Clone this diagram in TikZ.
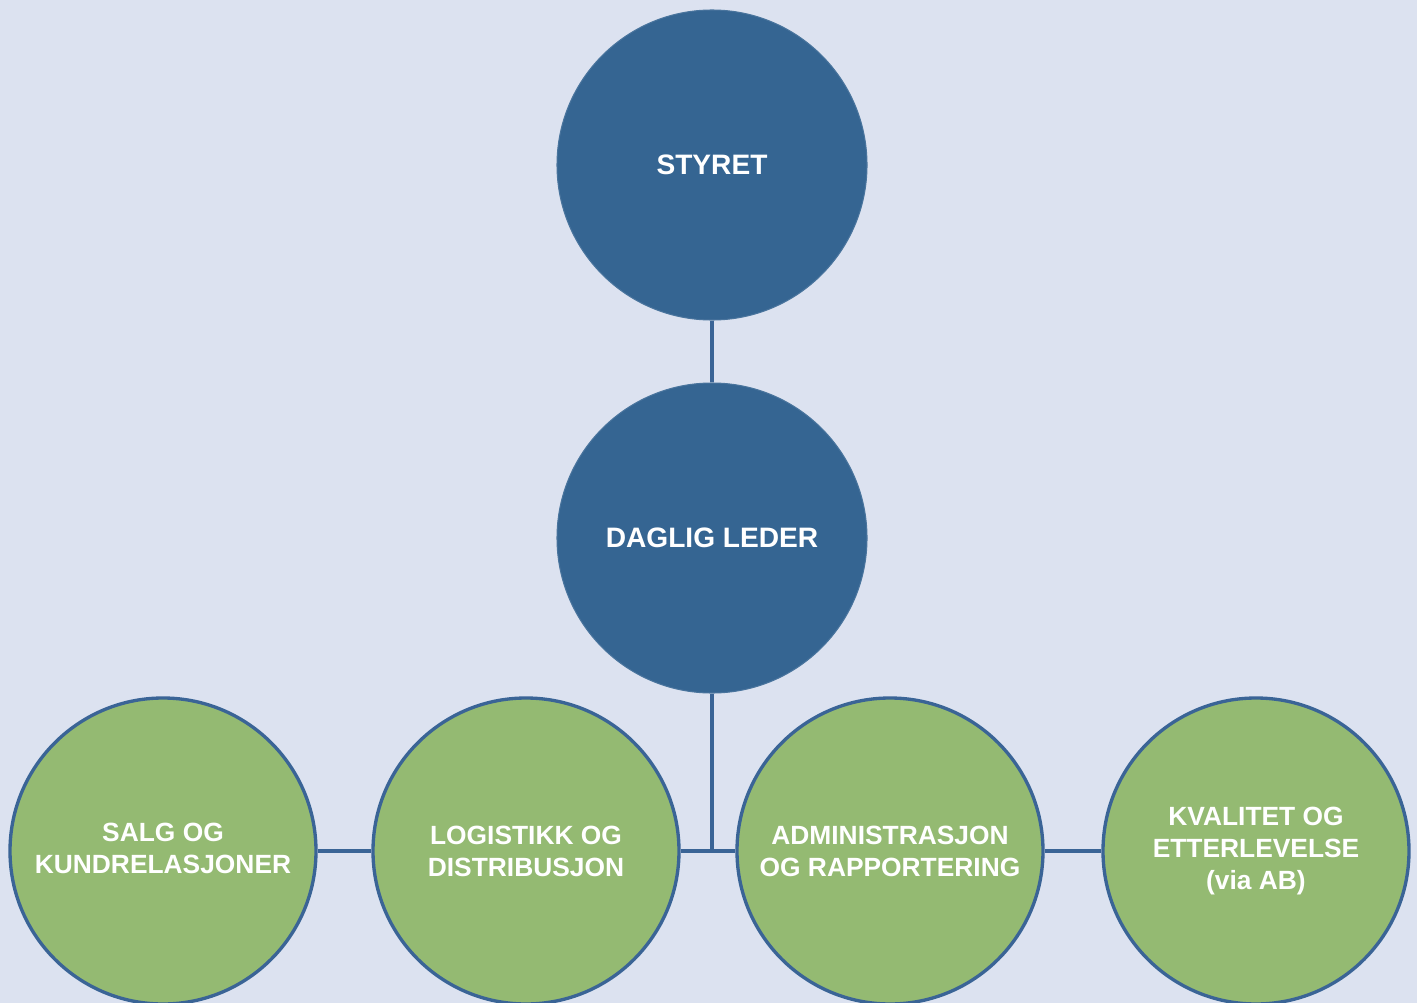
\documentclass[tikz,border=0pt]{standalone}
\usepackage{fontspec}
\setmainfont{Liberation Sans}
\usetikzlibrary{positioning,calc}
\definecolor{bgblue}{HTML}{DCE2F0}
\definecolor{darkblue}{HTML}{356592}
\definecolor{edgeblue}{HTML}{3A6496}
\definecolor{leafgreen}{HTML}{94BA72}
\begin{document}
\begin{tikzpicture}[line width=1.9pt,
top/.style = {circle, fill = darkblue, draw = darkblue!90!white, line width=0.6pt, minimum size=6.2cm, inner sep=0pt, align=center, text=white, font=\fontsize{16}{19}\selectfont\bfseries},
unit/.style = {circle, fill = leafgreen, draw = edgeblue, minimum size=6.12cm, inner sep=0pt, align=center, text=white, font=\fontsize{15}{18.2}\selectfont\bfseries},]
\fill[bgblue] (0,0) rectangle (28.34,-20.06);
\useasboundingbox (0,0) rectangle (28.34,-20.06);
\node (S) at (14.24,-3.3)[top] {STYRET};
\node (D) at (14.24,-10.76)[top] {DAGLIG LEDER};
\node (SK) at (3.26,-17.02)[unit] {\raisebox{0.1cm}{\begin{tabular}{@{}c@{}}SALG OG\\ KUNDRELASJONER\end{tabular}}};
\node (LD) at (10.52,-17.02)[unit] {LOGISTIKK OG\\ DISTRIBUSJON};
\node (AR) at (17.8,-17.02)[unit] {ADMINISTRASJON\\ OG RAPPORTERING};
\node (KE) at (25.12,-17.02)[unit] {KVALITET OG\\ ETTERLEVELSE\\ (via AB)};
\coordinate (J) at (D.south |- LD.east);
\draw[edgeblue] (S)--(D);
\draw[edgeblue] (D)--(J);
\draw[edgeblue] (LD)--(AR);
\draw[edgeblue] (SK)--(LD);
\draw[edgeblue] (AR)--(KE);
\end{tikzpicture}
\end{document}
